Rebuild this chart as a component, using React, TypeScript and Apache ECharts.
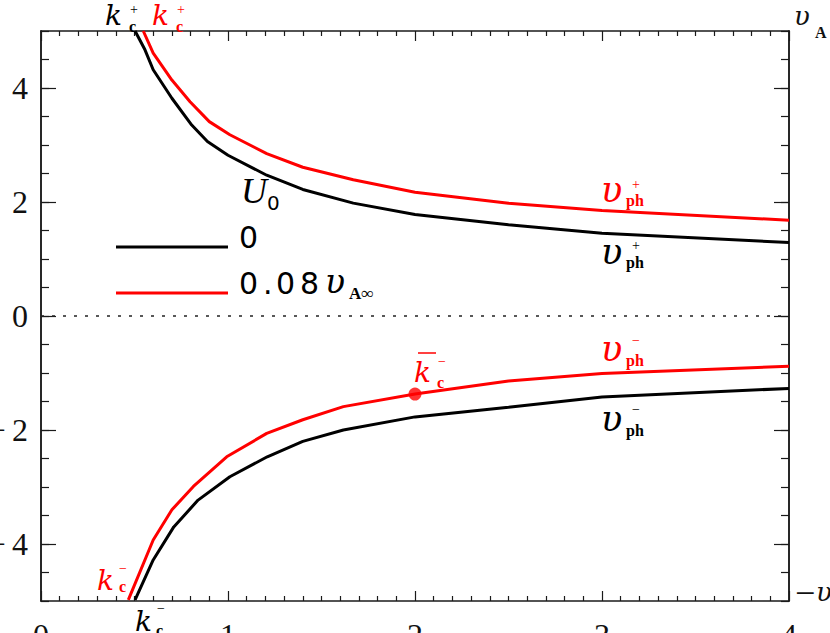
import React, { useEffect, useRef } from 'react';
import * as echarts from 'echarts';

// wavenumber k and phase speeds
const kBlackPlus = [0.503, 0.556, 0.6, 0.7, 0.806, 0.89, 1.0, 1.207, 1.4, 1.67, 2.0, 2.5, 3.0, 4.0];
const vBlackPlus = [5.0, 4.67, 4.32, 3.82, 3.35, 3.06, 2.82, 2.47, 2.22, 1.98, 1.78, 1.6, 1.45, 1.29];

const kBlackMinus = [0.503, 0.6, 0.71, 0.84, 1.01, 1.21, 1.4, 1.617, 2.0, 2.5, 3.0, 4.0];
const vBlackMinus = [-4.98, -4.28, -3.7, -3.23, -2.82, -2.47, -2.2, -2.0, -1.77, -1.6, -1.42, -1.27];

const kRedPlus = [0.547, 0.6, 0.7, 0.797, 0.9, 1.01, 1.207, 1.4, 1.67, 2.0, 2.5, 3.0, 4.0];
const vRedPlus = [5.0, 4.61, 4.14, 3.76, 3.41, 3.18, 2.85, 2.61, 2.39, 2.17, 1.98, 1.85, 1.68];

const kRedMinus = [0.467, 0.6, 0.7, 0.815, 0.993, 1.207, 1.4, 1.617, 2.0, 2.5, 3.0, 4.0];
const vRedMinus = [-4.98, -3.93, -3.4, -2.99, -2.47, -2.06, -1.82, -1.59, -1.37, -1.14, -1.01, -0.88];

const criticalPoint = [2.0, -1.37];

const xTicks = [0, 1, 2, 3, 4];
const yMajorTicks = [-4, -2, 0, 2, 4];

const pair = (ks: number[], vs: number[]) => ks.map((k, i) => [k, vs[i]]);

const AX = '#1a1a1a';
const RED = '#ff0000';
const SERIF = '"Liberation Serif", "DejaVu Serif", serif';
const DSERIF = '"DejaVu Serif", serif';
const SANS = '"DejaVu Sans", sans-serif';

const T = (text: string, x: number, y: number, font: string, fill: string) => ({
  type: 'text',
  x,
  y,
  silent: true,
  z: 100,
  style: { text, font, fill, textAlign: 'left', verticalAlign: 'middle' },
});

const kFont = `italic 28px ${DSERIF}`;
const vFont = `italic 35px ${DSERIF}`;
const subFont = `bold 16px ${SERIF}`;
const supFont = `14px ${SERIF}`;

export default function App() {
  const ref = useRef<HTMLDivElement>(null);
  useEffect(() => {
    if (!ref.current) return;
    const chart = echarts.init(ref.current, undefined, { renderer: 'svg' });
    const lineStyle = { color: AX, width: 1.5 };
    const baseX = {
      type: 'value',
      min: 0,
      max: 4,
      interval: 1,
      axisLine: { show: true, onZero: false, lineStyle },
      axisTick: { show: true, inside: true, length: 10, lineStyle: { color: AX, width: 1.2 } },
      minorTick: { show: true, splitNumber: 10, length: 5, lineStyle: { color: AX, width: 1.2 } },
      splitLine: { show: false },
      minorSplitLine: { show: false },
    };
    const baseY = {
      type: 'value',
      min: -5,
      max: 5,
      interval: 0.5,
      axisLine: { show: true, onZero: false, lineStyle },
      splitLine: { show: false },
    };
    const option: any = {
      animation: false,
      backgroundColor: '#ffffff',
      grid: { left: 41, top: 31, right: 41, bottom: 32, containLabel: false, outerBoundsMode: 'none' },
      xAxis: [
        {
          ...baseX,
          position: 'bottom',
          axisLabel: {
            show: true,
            margin: 18,
            fontSize: 32,
            fontFamily: SERIF,
            color: '#111',
            customValues: xTicks,
          },
        },
        { ...baseX, position: 'top', axisLabel: { show: false } },
      ],
      yAxis: [
        {
          ...baseY,
          position: 'left',
          axisTick: { show: true, inside: true, length: 8, lineStyle: { color: AX, width: 1.2 } },
          axisLabel: { show: false },
        },
        {
          ...baseY,
          position: 'left',
          axisTick: {
            show: true,
            inside: true,
            length: 15,
            customValues: yMajorTicks,
            lineStyle: { color: AX, width: 1.2 },
          },
          axisLabel: {
            show: true,
            margin: 13,
            fontSize: 32,
            fontFamily: SERIF,
            color: '#111',
            customValues: yMajorTicks,
            formatter: (v: number) => (v < 0 ? '\u2212\u2009' + Math.abs(v) : String(v)),
          },
        },
        {
          ...baseY,
          position: 'right',
          axisTick: { show: true, inside: true, length: 8, lineStyle: { color: AX, width: 1.2 } },
          axisLabel: { show: false },
        },
        {
          ...baseY,
          position: 'right',
          axisTick: {
            show: true,
            inside: true,
            length: 15,
            customValues: yMajorTicks,
            lineStyle: { color: AX, width: 1.2 },
          },
          axisLabel: { show: false },
        },
      ],
      series: [
        {
          type: 'line',
          data: [[0, 0], [4, 0]],
          showSymbol: false,
          lineStyle: { color: '#222', width: 1.5, type: [3, 8] },
          z: 1,
        },
        {
          type: 'line',
          data: pair(kBlackPlus, vBlackPlus),
          showSymbol: false,
          clip: true,
          lineStyle: { color: '#000', width: 3 },
        },
        {
          type: 'line',
          data: pair(kBlackMinus, vBlackMinus),
          showSymbol: false,
          clip: true,
          lineStyle: { color: '#000', width: 3 },
        },
        {
          type: 'line',
          data: pair(kRedPlus, vRedPlus),
          showSymbol: false,
          clip: true,
          lineStyle: { color: RED, width: 3 },
        },
        {
          type: 'line',
          data: pair(kRedMinus, vRedMinus),
          showSymbol: false,
          clip: true,
          lineStyle: { color: RED, width: 3 },
        },
        {
          type: 'scatter',
          data: [criticalPoint],
          symbol: 'circle',
          symbolSize: 13,
          itemStyle: { color: RED },
          z: 5,
        },
      ],
      graphic: [
        // right-hand axis labels v_A and -v_A
        T('\u03c5', 794, 16, `italic 26px ${DSERIF}`, '#111'),
        T('A', 815, 32, `bold 16px ${SERIF}`, '#111'),
        T('\u2212', 795, 593, `36px ${SERIF}`, '#111'),
        T('\u03c5', 816, 592, `italic 26px ${DSERIF}`, '#111'),
        // legend
        { type: 'line', shape: { x1: 116, y1: 247, x2: 228, y2: 247 }, style: { stroke: '#000', lineWidth: 3 }, silent: true },
        { type: 'line', shape: { x1: 116, y1: 293, x2: 228, y2: 293 }, style: { stroke: RED, lineWidth: 3 }, silent: true },
        T('U', 241, 191, `italic 36px ${SERIF}`, '#000'),
        T('0', 267, 203, `20px ${SANS}`, '#000'),
        T('0', 239, 237, `30px ${SANS}`, '#000'),
        T('0', 239, 283, `30px ${SANS}`, '#000'),
        T('.', 263, 283, `30px ${SANS}`, '#000'),
        T('0', 276, 283, `30px ${SANS}`, '#000'),
        T('8', 300, 283, `30px ${SANS}`, '#000'),
        T('\u03c5', 325, 281, `italic 33px ${DSERIF}`, '#000'),
        T('A\u221e', 349, 293, `bold 17px ${SERIF}`, '#000'),
        // top k_c^+
        T('k', 105, 15, kFont, '#000'),
        T('c', 129, 26, subFont, '#000'),
        T('+', 130, 9, supFont, '#000'),
        T('k', 152, 15, kFont, RED),
        T('c', 176, 26, subFont, RED),
        T('+', 177, 9, supFont, RED),
        // bottom k_c^-
        T('k', 97, 580, kFont, RED),
        T('c', 119, 586, subFont, RED),
        T('\u2212', 119, 568, supFont, RED),
        T('k', 135, 621, kFont, '#000'),
        T('c', 156, 630, subFont, '#000'),
        T('\u2212', 157, 608, supFont, '#000'),
        // k-bar_c^-
        T('k', 414, 372, kFont, RED),
        T('c', 437, 382, subFont, RED),
        T('\u2212', 438, 361, supFont, RED),
        { type: 'line', shape: { x1: 418, y1: 353, x2: 436, y2: 353 }, style: { stroke: RED, lineWidth: 1.5 }, silent: true },
        // v_ph labels
        T('\u03c5', 601, 190, vFont, RED),
        T('ph', 626, 200.5, subFont, RED),
        T('+', 632, 184.5, supFont, RED),
        T('\u03c5', 601, 252, vFont, '#000'),
        T('ph', 626, 262, subFont, '#000'),
        T('+', 632, 245, supFont, '#000'),
        T('\u03c5', 601, 349, vFont, RED),
        T('ph', 626, 360, subFont, RED),
        T('\u2212', 632, 340, supFont, RED),
        T('\u03c5', 601, 419, vFont, '#000'),
        T('ph', 626, 430, subFont, '#000'),
        T('\u2212', 632, 409, supFont, '#000'),
      ],
    };
    chart.setOption(option);
    return () => chart.dispose();
  }, []);
  return (
    <div
      ref={ref}
      style={{ position: 'absolute', left: 0, top: 0, width: 830, height: 633, background: '#fff' }}
    />
  );
}
